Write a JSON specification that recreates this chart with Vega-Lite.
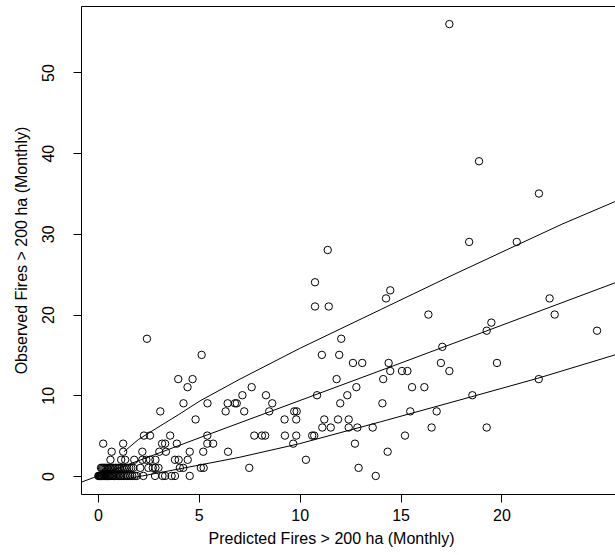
{
"$schema": "https://vega.github.io/schema/vega-lite/v6.json",
"width": 534, "height": 488,
"autosize": {"type": "none"},
"padding": {"left": 81, "top": 6, "right": 0, "bottom": 61},
"background": "white",
"config": {"view": {"stroke": null}, "font": "Liberation Sans",
  "axis": {"grid": false, "domainColor": "black", "tickColor": "black", "labelColor": "black", "titleColor": "black", "labelFontSize": 16, "titleFontSize": 16, "titleFontWeight": "normal", "tickSize": 8, "labelFlush": false, "labelOverlap": false}},
"datasets": {
"lines": [
{"curve":"c","x":-0.84,"y":-0.79},{"curve":"c","x":5.06,"y":4.75},{"curve":"c","x":14.97,"y":13.95},{"curve":"c","x":25.63,"y":23.93},
{"curve":"u","x":1.29,"y":3.0},{"curve":"u","x":2.0,"y":4.5},{"curve":"u","x":2.83,"y":5.8},{"curve":"u","x":4.0,"y":7.6},{"curve":"u","x":5.06,"y":9.3},{"curve":"u","x":7.04,"y":12.0},{"curve":"u","x":10.0,"y":15.8},{"curve":"u","x":14.0,"y":20.6},{"curve":"u","x":17.5,"y":24.8},{"curve":"u","x":20.76,"y":28.6},{"curve":"u","x":23.0,"y":31.2},{"curve":"u","x":25.63,"y":34.0},
{"curve":"l","x":1.29,"y":-0.4},{"curve":"l","x":2.2,"y":0.0},{"curve":"l","x":4.2,"y":0.95},{"curve":"l","x":7.0,"y":2.3},{"curve":"l","x":10.0,"y":4.0},{"curve":"l","x":14.0,"y":6.7},{"curve":"l","x":18.5,"y":9.8},{"curve":"l","x":21.8,"y":12.1},{"curve":"l","x":25.63,"y":15.0}
],
"pts": [
{"x":0.02,"y":0},{"x":0.05,"y":0},{"x":0.08,"y":0},{"x":0.1,"y":0},{"x":0.13,"y":0},{"x":0.16,"y":0},{"x":0.19,"y":0},{"x":0.22,"y":0},{"x":0.26,"y":0},{"x":0.3,"y":0},{"x":0.34,"y":0},{"x":0.38,"y":0},{"x":0.43,"y":0},{"x":0.48,"y":0},{"x":0.53,"y":0},{"x":0.58,"y":0},{"x":0.64,"y":0},{"x":0.7,"y":0},{"x":0.76,"y":0},{"x":0.82,"y":0},{"x":0.88,"y":0},{"x":0.95,"y":0},{"x":1.02,"y":0},{"x":1.09,"y":0},{"x":1.16,"y":0},{"x":1.24,"y":0},{"x":1.32,"y":0},{"x":1.41,"y":0},{"x":1.5,"y":0},{"x":1.6,"y":0},{"x":1.7,"y":0},{"x":1.82,"y":0},{"x":1.92,"y":0},{"x":2.25,"y":0},{"x":2.83,"y":0},{"x":3.2,"y":0},{"x":3.33,"y":0},{"x":3.65,"y":0},{"x":3.82,"y":0},{"x":4.55,"y":0},{"x":13.77,"y":0},
{"x":0.15,"y":1},{"x":0.2,"y":1},{"x":0.26,"y":1},{"x":0.32,"y":1},{"x":0.38,"y":1},{"x":0.44,"y":1},{"x":0.5,"y":1},{"x":0.57,"y":1},{"x":0.64,"y":1},{"x":0.71,"y":1},{"x":0.78,"y":1},{"x":0.86,"y":1},{"x":0.94,"y":1},{"x":1.02,"y":1},{"x":1.1,"y":1},{"x":1.18,"y":1},{"x":1.27,"y":1},{"x":1.36,"y":1},{"x":1.45,"y":1},{"x":1.55,"y":1},{"x":1.65,"y":1},{"x":1.75,"y":1},{"x":2.1,"y":1},{"x":2.5,"y":1},{"x":2.72,"y":1},{"x":2.85,"y":1},{"x":3.0,"y":1},{"x":4.06,"y":1},{"x":4.23,"y":1},{"x":5.1,"y":1},{"x":5.24,"y":1},{"x":7.5,"y":1},{"x":12.92,"y":1},
{"x":0.62,"y":2},{"x":1.15,"y":2},{"x":1.35,"y":2},{"x":1.8,"y":2},{"x":2.2,"y":2},{"x":2.4,"y":2},{"x":2.58,"y":2},{"x":2.85,"y":2},{"x":3.82,"y":2},{"x":4.0,"y":2},{"x":4.45,"y":2},{"x":10.31,"y":2},
{"x":0.68,"y":3},{"x":1.25,"y":3},{"x":2.2,"y":3},{"x":3.04,"y":3},{"x":3.37,"y":3},{"x":4.55,"y":3},{"x":5.22,"y":3},{"x":6.45,"y":3},{"x":14.36,"y":3},
{"x":0.26,"y":4},{"x":1.25,"y":4},{"x":3.18,"y":4},{"x":3.33,"y":4},{"x":3.91,"y":4},{"x":5.42,"y":4},{"x":5.71,"y":4},{"x":9.68,"y":4},{"x":12.74,"y":4},
{"x":2.28,"y":5},{"x":2.58,"y":5},{"x":3.58,"y":5},{"x":5.42,"y":5},{"x":7.75,"y":5},{"x":8.13,"y":5},{"x":8.29,"y":5},{"x":9.27,"y":5},{"x":9.83,"y":5},{"x":10.62,"y":5},{"x":10.72,"y":5},{"x":15.22,"y":5},
{"x":11.12,"y":6},{"x":11.54,"y":6},{"x":12.43,"y":6},{"x":12.86,"y":6},{"x":13.62,"y":6},{"x":16.54,"y":6},{"x":19.27,"y":6},
{"x":4.84,"y":7},{"x":9.25,"y":7},{"x":9.83,"y":7},{"x":11.22,"y":7},{"x":11.9,"y":7},{"x":12.43,"y":7},
{"x":3.09,"y":8},{"x":6.33,"y":8},{"x":7.25,"y":8},{"x":8.49,"y":8},{"x":9.73,"y":8},{"x":9.85,"y":8},{"x":15.48,"y":8},{"x":16.79,"y":8},
{"x":4.24,"y":9},{"x":5.43,"y":9},{"x":6.43,"y":9},{"x":6.79,"y":9},{"x":6.88,"y":9},{"x":8.64,"y":9},{"x":12.01,"y":9},{"x":14.1,"y":9},
{"x":7.16,"y":10},{"x":8.33,"y":10},{"x":10.86,"y":10},{"x":12.36,"y":10},{"x":18.56,"y":10},
{"x":4.44,"y":11},{"x":7.62,"y":11},{"x":12.81,"y":11},{"x":15.57,"y":11},{"x":16.18,"y":11},
{"x":3.98,"y":12},{"x":4.69,"y":12},{"x":11.83,"y":12},{"x":14.14,"y":12},{"x":21.85,"y":12},
{"x":14.49,"y":13},{"x":15.07,"y":13},{"x":15.34,"y":13},{"x":17.42,"y":13},
{"x":12.64,"y":14},{"x":13.1,"y":14},{"x":14.41,"y":14},{"x":17.0,"y":14},{"x":19.78,"y":14},
{"x":5.14,"y":15},{"x":11.1,"y":15},{"x":11.96,"y":15},
{"x":17.07,"y":16},
{"x":2.43,"y":17},{"x":12.06,"y":17},
{"x":19.27,"y":18},{"x":24.74,"y":18},
{"x":19.5,"y":19},
{"x":16.38,"y":20},{"x":22.64,"y":20},
{"x":10.76,"y":21},{"x":11.44,"y":21},
{"x":14.28,"y":22},{"x":22.39,"y":22},
{"x":14.49,"y":23},
{"x":10.76,"y":24},
{"x":11.39,"y":28},
{"x":18.4,"y":29},{"x":20.76,"y":29},
{"x":21.86,"y":35},
{"x":18.89,"y":39},
{"x":17.42,"y":56}
]},
"resolve": {"axis": {"x": "independent"}},
"layer": [
{"data": {"name": "lines"},
 "mark": {"type": "line", "color": "black", "strokeWidth": 1, "clip": true},
 "encoding": {
  "x": {"field": "x", "type": "quantitative", "scale": {"domain": [-0.84, 25.63], "nice": false, "zero": false},
        "axis": {"values": [0, 5, 10, 15, 20], "title": "Predicted Fires > 200 ha (Monthly)", "labelPadding": 5, "titlePadding": 7, "titleX": 250, "titleAlign": "center", "titleAnchor": null}},
  "y": {"field": "y", "type": "quantitative", "scale": {"domain": [-2.24, 58.24], "nice": false, "zero": false},
        "axis": {"values": [0, 10, 20, 30, 40, 50], "title": "Observed Fires > 200 ha (Monthly)", "labelAngle": -90, "labelAlign": "center", "labelBaseline": "bottom", "labelPadding": 17, "titlePadding": 11}},
  "detail": {"field": "curve", "type": "nominal"}
 }},
{"data": {"name": "pts"},
 "mark": {"type": "point", "shape": "circle", "filled": false, "color": "black", "size": 55, "strokeWidth": 1, "opacity": 1, "clip": true},
 "encoding": {
  "x": {"field": "x", "type": "quantitative", "axis": {"orient": "top", "labels": false, "ticks": false, "title": null, "domain": true}},
  "y": {"field": "y", "type": "quantitative"}
 }}
]
}
